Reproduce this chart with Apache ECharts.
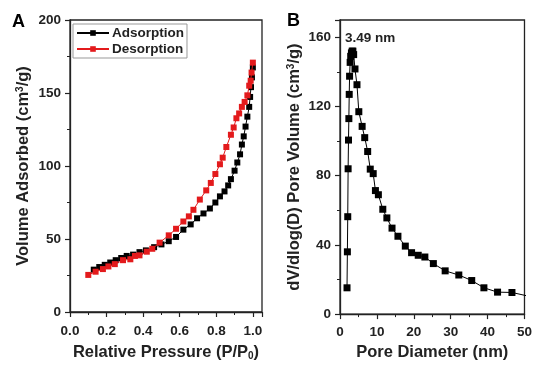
<!DOCTYPE html>
<html>
<head>
<meta charset="utf-8">
<script src="https://cdn.jsdelivr.net/npm/echarts@6/dist/echarts.min.js"></script>
<style>
  html, body { margin: 0; padding: 0; background: #fff; }
  #chart { width: 535px; height: 366px; }
</style>
</head>
<body>
<div id="chart"></div>
<script>
// panel A: N2 isotherm
const adsP = [0.13, 0.16, 0.19, 0.22, 0.25, 0.28, 0.31, 0.345, 0.38, 0.415, 0.46, 0.5, 0.54, 0.58, 0.62, 0.66, 0.695, 0.73, 0.765, 0.795, 0.82, 0.845, 0.865, 0.88, 0.9, 0.915, 0.93, 0.94, 0.95, 0.96, 0.97, 0.98, 0.985, 0.99, 0.995, 1.0]
const adsV = [29, 30.8, 32.3, 33.9, 35.5, 37, 38.4, 39.3, 41, 42.2, 44.4, 46.3, 48.5, 51.4, 56.4, 60, 64.2, 67.5, 70.9, 75, 79.2, 82.6, 86.7, 91, 96.8, 102.4, 108, 114.7, 120.3, 127, 133.8, 140.5, 147.3, 154, 160.7, 167.5]
const desP = [0.1, 0.14, 0.18, 0.21, 0.245, 0.29, 0.33, 0.355, 0.38, 0.42, 0.45, 0.49, 0.54, 0.58, 0.62, 0.65, 0.675, 0.71, 0.745, 0.77, 0.795, 0.82, 0.835, 0.855, 0.88, 0.895, 0.91, 0.925, 0.94, 0.955, 0.97, 0.98, 0.988, 0.993, 1.0]
const desV = [25.4, 27.6, 29.4, 31.2, 32.8, 35.5, 36.1, 38.4, 38.8, 41.3, 43.3, 47.5, 52.5, 57, 62, 65.5, 70, 77, 83.3, 88.4, 94.5, 101.2, 105.7, 113, 121.4, 126.4, 132.7, 136, 140.5, 143.9, 148.4, 155, 158.4, 164, 170.8]

// panel B: pore size distribution
const poreD = [1.9, 2.0, 2.1, 2.2, 2.3, 2.4, 2.5, 2.6, 2.75, 2.9, 3.1, 3.3, 3.49, 3.7, 4.06, 4.6, 5.1, 6.0, 6.7, 7.5, 8.2, 9.0, 9.6, 10.4, 11.6, 12.7, 14.1, 15.7, 17.7, 19.4, 21.2, 23, 25.3, 28.5, 32.2, 35.7, 39, 42.7, 46.6, 51]
const poreV = [15.2, 36, 56.3, 84, 100.6, 113, 127, 137.5, 145.5, 149, 151, 152, 152, 150, 141.7, 132.6, 117, 108.5, 102, 94, 83.8, 81.2, 71.4, 69, 60.6, 55.6, 49.7, 45, 39.3, 35.5, 34, 33, 29.2, 25, 22.6, 19.4, 15.2, 12.7, 12.5, 10.4]

const zip = (xs, ys) => xs.map((x, i) => [x, ys[i]])

const FONT = 'Liberation Sans, Arial, sans-serif'
const AX = '#222'
const RED = '#e31a1c'
const labelStyle = { color: AX, fontFamily: FONT, fontWeight: 'bold', fontSize: 13.5 }

function axisCommon(extra) {
    return Object.assign({
        type: 'value',
        splitLine: { show: false },
        axisLine: { show: true, lineStyle: { color: AX, width: 1.3 } },
        axisTick: { show: true, length: 5, lineStyle: { color: AX, width: 1.2 } },
        minorTick: { show: true, splitNumber: 2, length: 3, lineStyle: { color: AX, width: 1 } },
        nameLocation: 'middle',
        nameTextStyle: {
            color: AX, fontFamily: FONT, fontWeight: 'bold', fontSize: 16.5,
            rich: {
                sup: { fontSize: 10, fontWeight: 'bold', fontFamily: FONT, color: AX, verticalAlign: 'top', padding: [0, 0, 7, 0] },
                sub: { fontSize: 10, fontWeight: 'bold', fontFamily: FONT, color: AX, verticalAlign: 'bottom', padding: [7, 0, 0, 0] },
            },
        },
    }, extra)
}

const chart = echarts.init(document.getElementById('chart'), null, { renderer: 'canvas' })

const option = {
    animation: false,
    backgroundColor: '#fff',
    grid: [
        { left: 70, top: 20, width: 192, height: 297, show: true, borderColor: AX, borderWidth: 1.3, backgroundColor: 'transparent' },
        { left: 340, top: 20, width: 191, height: 299, show: true, borderColor: AX, borderWidth: 1.3, backgroundColor: 'transparent' },
    ],
    legend: {
        data: ['Adsorption', 'Desorption'],
        orient: 'vertical',
        left: 73,
        top: 24,
        itemWidth: 32,
        itemHeight: 7,
        itemGap: 2,
        padding: [2, 3, 2, 3],
        borderColor: '#999',
        borderWidth: 1,
        backgroundColor: '#fff',
        textStyle: { color: AX, fontFamily: FONT, fontWeight: 'bold', fontSize: 13.5, padding: [0, 0, 0, -2] },
    },
    xAxis: [
        axisCommon({
            gridIndex: 0, min: 0, max: 1.05, interval: 0.2,
            name: 'Relative Pressure (P/P{sub|0})', nameGap: 32,
            axisLabel: Object.assign({ margin: 12, showMaxLabel: false, formatter: v => v.toFixed(1) }, labelStyle),
        }),
        axisCommon({
            gridIndex: 1, min: 0, max: 50, interval: 10,
            name: 'Pore Diameter (nm)', nameGap: 29,
            axisLabel: Object.assign({ margin: 11 }, labelStyle),
        }),
    ],
    yAxis: [
        axisCommon({
            gridIndex: 0, min: 0, max: 200, interval: 50,
            name: 'Volume Adsorbed (cm{sup|3}/g)', nameGap: 38,
            axisLabel: Object.assign({ margin: 9 }, labelStyle),
        }),
        axisCommon({
            gridIndex: 1, min: 0, max: 170, interval: 40,
            name: 'dV/dlog(D) Pore Volume (cm{sup|3}/g)', nameGap: 37,
            axisLabel: Object.assign({ margin: 9, showMaxLabel: false }, labelStyle),
        }),
    ],
    series: [
        {
            name: 'Adsorption', type: 'line', xAxisIndex: 0, yAxisIndex: 0,
            data: zip(adsP, adsV),
            symbol: 'rect', symbolSize: 6, showAllSymbol: true,
            lineStyle: { color: '#000', width: 1 },
            itemStyle: { color: '#000' },
            z: 3,
        },
        {
            name: 'Desorption', type: 'line', xAxisIndex: 0, yAxisIndex: 0,
            data: zip(desP, desV),
            symbol: 'rect', symbolSize: 6, showAllSymbol: true,
            lineStyle: { color: RED, width: 1 },
            itemStyle: { color: RED },
            z: 4,
        },
        {
            name: 'PSD', type: 'line', xAxisIndex: 1, yAxisIndex: 1,
            data: zip(poreD, poreV),
            symbol: 'rect', symbolSize: 7, showAllSymbol: true, clip: true,
            lineStyle: { color: '#000', width: 1 },
            itemStyle: { color: '#000' },
        },
    ],
    graphic: [
        { type: 'text', left: 12, top: 13, style: { text: 'A', fill: '#000', font: 'bold 18px ' + FONT } },
        { type: 'text', left: 287, top: 12, style: { text: 'B', fill: '#000', font: 'bold 18px ' + FONT } },
        { type: 'text', left: 345, top: 31, style: { text: '3.49 nm', fill: AX, font: 'bold 13.5px ' + FONT } },
    ],
}

chart.setOption(option)
</script>
</body>
</html>
